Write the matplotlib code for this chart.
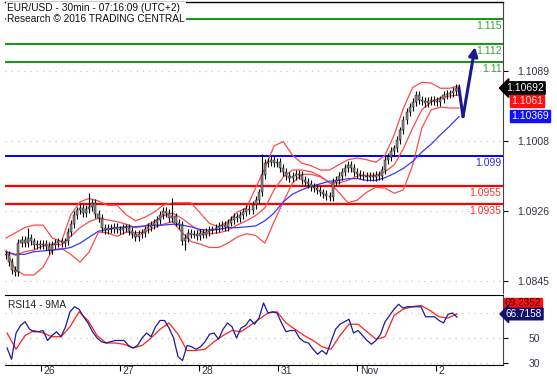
import numpy as np
import matplotlib
matplotlib.use('Agg')
import matplotlib.pyplot as plt
import matplotlib.transforms as mtransforms

plt.rcParams['font.family'] = ['Liberation Sans', 'DejaVu Sans']
plt.rcParams['font.size'] = 7.5

# time axis in trading days, 0 = Oct 26 00:00 (weekend skipped)
day_ticks = [0, 1, 2, 3, 4, 5]
day_labels = ['26', '27', '28', '31', 'Nov', '2']
t_first, t_last = -0.442, 5.29

# hourly closes
closes = [1.0875, 1.0867, 1.0858, 1.0855, 1.0889, 1.0893, 1.0889, 1.0895, 1.0891, 1.0887,
          1.0888, 1.0887, 1.0888, 1.0886, 1.0881, 1.0887, 1.0889, 1.0891, 1.0889, 1.0891,
          1.0902, 1.0911, 1.0922, 1.0927, 1.0930, 1.0924, 1.0929, 1.0931, 1.0936, 1.0923,
          1.0918, 1.0907, 1.0904, 1.0907, 1.0905, 1.0908, 1.0905, 1.0904, 1.0907, 1.0907,
          1.0903, 1.0900, 1.0896, 1.0900, 1.0901, 1.0905, 1.0908, 1.0910, 1.0912, 1.0916,
          1.0922, 1.0926, 1.0924, 1.0918, 1.0920, 1.0913, 1.0910, 1.0891, 1.0895, 1.0901,
          1.0899, 1.0900, 1.0897, 1.0901, 1.0899, 1.0902, 1.0904, 1.0905, 1.0907, 1.0909,
          1.0910, 1.0908, 1.0913, 1.0916, 1.0919, 1.0918, 1.0922, 1.0925, 1.0929, 1.0927,
          1.0933, 1.0939, 1.0948, 1.0968, 1.0982, 1.0983, 1.0986, 1.0982, 1.0983, 1.0976,
          1.0972, 1.0967, 1.0965, 1.0967, 1.0969, 1.0968, 1.0962, 1.0960, 1.0958, 1.0954,
          1.0953, 1.0951, 1.0948, 1.0946, 1.0944, 1.0943, 1.0960, 1.0962, 1.0967, 1.0972,
          1.0976, 1.0980, 1.0976, 1.0972, 1.0969, 1.0968, 1.0967, 1.0966, 1.0967, 1.0966,
          1.0968, 1.0967, 1.0974, 1.0986, 1.0989, 1.0996, 1.0999, 1.1009, 1.1020, 1.1032,
          1.1041, 1.1047, 1.1053, 1.1061, 1.1055, 1.1054, 1.1052, 1.1054, 1.1055, 1.1054,
          1.1053, 1.1056, 1.1061, 1.1062, 1.1063, 1.1066, 1.1069, 1.1069]
spike_idx = [7, 27, 54, 83, 58]
spike_price = [1.0907, 1.0947, 1.0942, 1.0993, 1.0881]

# bollinger bands and moving average
bb_upper = [1.0895, 1.0901, 1.0907, 1.0910, 1.0910, 1.0895, 1.0891, 1.0922, 1.0937, 1.0941,
            1.0938, 1.0933, 1.0933, 1.0922, 1.0915, 1.0919, 1.0925, 1.0933, 1.0936, 1.0936,
            1.0936, 1.0924, 1.0912, 1.0908, 1.0914, 1.0925, 1.0930, 1.0953, 1.0976, 1.1002,
            1.1007, 1.0991, 1.0982, 1.0979, 1.0974, 1.0974, 1.0980, 1.0986, 1.0988, 1.0986,
            1.0983, 1.0991, 1.1015, 1.1046, 1.1070, 1.1076, 1.1075, 1.1069, 1.1069, 1.1072]
bb_mid = [1.0879, 1.0875, 1.0879, 1.0881, 1.0886, 1.0888, 1.0887, 1.0897, 1.0907, 1.0914,
          1.0918, 1.0916, 1.0914, 1.0911, 1.0907, 1.0909, 1.0914, 1.0921, 1.0924, 1.0918,
          1.0910, 1.0903, 1.0900, 1.0901, 1.0904, 1.0910, 1.0915, 1.0921, 1.0930, 1.0951,
          1.0966, 1.0974, 1.0974, 1.0972, 1.0967, 1.0959, 1.0959, 1.0962, 1.0967, 1.0968,
          1.0968, 1.0972, 1.0980, 1.0999, 1.1023, 1.1044, 1.1053, 1.1058, 1.1060, 1.1061]
bb_lower = [1.0881, 1.0858, 1.0852, 1.0852, 1.0861, 1.0881, 1.0883, 1.0876, 1.0867, 1.0879,
            1.0902, 1.0901, 1.0897, 1.0902, 1.0901, 1.0902, 1.0907, 1.0911, 1.0914, 1.0902,
            1.0891, 1.0888, 1.0884, 1.0884, 1.0889, 1.0896, 1.0900, 1.0898, 1.0889, 1.0914,
            1.0937, 1.0959, 1.0969, 1.0969, 1.0966, 1.0960, 1.0948, 1.0936, 1.0939, 1.0948,
            1.0954, 1.0953, 1.0947, 1.0951, 1.0980, 1.1023, 1.1044, 1.1047, 1.1046, 1.1046]
ma_blue = [1.0879, 1.0876, 1.0876, 1.0879, 1.0880, 1.0881, 1.0882, 1.0884, 1.0889, 1.0896,
           1.0903, 1.0905, 1.0907, 1.0908, 1.0908, 1.0909, 1.0910, 1.0910, 1.0911, 1.0910,
           1.0908, 1.0905, 1.0904, 1.0905, 1.0907, 1.0907, 1.0908, 1.0909, 1.0915, 1.0924,
           1.0937, 1.0946, 1.0951, 1.0955, 1.0958, 1.0961, 1.0962, 1.0964, 1.0964, 1.0962,
           1.0962, 1.0965, 1.0970, 1.0976, 1.0984, 1.0995, 1.1004, 1.1015, 1.1025, 1.1036]

# key levels
resist = [1.115, 1.112, 1.11]
pivot = [1.099]
support = [1.0955, 1.0935]

# forecast arrow
arrow_t = [5.29, 5.342, 5.494]
arrow_p = [1.1069, 1.1036, 1.1117]

price_ticks = [1.1089, 1.1008, 1.0926, 1.0845]
last_close, last_mid, last_ma = '1.10692', '1.1061', '1.10369'

# RSI panel
rsi_first, rsi_last = -0.43, 5.266
rsi = [42, 33, 54, 60, 63, 57, 55, 55, 56, 48,
       52, 55, 51, 59, 71, 75, 73, 67, 62, 55,
       50, 47, 46, 47, 48, 48, 48, 44, 42, 44,
       50, 54, 51, 59, 64, 64, 58, 50, 35, 32,
       44, 43, 41, 43, 47, 53, 54, 49, 57, 62,
       59, 50, 58, 60, 65, 61, 66, 78, 70, 71,
       70, 62, 55, 56, 56, 50, 47, 46, 41, 37,
       40, 37, 47, 57, 61, 63, 65, 54, 56, 52,
       48, 45, 48, 53, 63, 68, 73, 77, 74, 75,
       75, 75, 75, 67, 67, 67, 64, 62, 69, 70,
       66.7158]
rsi_ma = [54, 41, 52, 56, 54, 51, 51, 59, 71, 64,
          52, 46, 46, 45, 42, 44, 50, 57, 62, 53,
          40, 40, 41, 47, 52, 56, 55, 60, 65, 70,
          71, 62, 57, 52, 48, 43, 41, 52, 61, 61,
          55, 49, 51, 68, 73, 75, 76, 72, 67, 66,
          69.2352]
rsi_ticks = [30, 50]


fig = plt.figure(figsize=(5.57, 3.79), dpi=100)
ax = fig.add_axes([5/557, 1-293/379, 498/557, 291/379])
ax2 = fig.add_axes([5/557, 1-365/379, 498/557, 70/379], sharex=ax)

t = np.linspace(t_first, t_last, len(closes))
c = np.array(closes)
o = np.r_[c[0], c[:-1]]
lo = np.minimum(o, c)
hi = np.maximum(o, c)

for p in price_ticks:
    ax.axhline(p, color='#c8c8c8', lw=0.9, ls=(0, (1, 4)), zorder=0)

for p in resist:
    ax.axhline(p, color='#119911', lw=1.4, zorder=1)
    ax.annotate(str(p), xy=(0.997, p), xycoords=('axes fraction', 'data'),
                xytext=(0, -1.5), textcoords='offset points',
                ha='right', va='top', color='#33a033', fontsize=7.5)
for p in pivot:
    ax.axhline(p, color='#0000ff', lw=1.4, zorder=1)
    ax.annotate(str(p), xy=(0.997, p), xycoords=('axes fraction', 'data'),
                xytext=(0, -1.5), textcoords='offset points',
                ha='right', va='top', color='#2a2ae0', fontsize=7.5)
for p in support:
    ax.axhline(p, color='#ff0000', lw=1.6, zorder=1)
    ax.annotate(str(p), xy=(0.997, p), xycoords=('axes fraction', 'data'),
                xytext=(0, -1.5), textcoords='offset points',
                ha='right', va='top', color='#ff3030', fontsize=7.5)

tb = np.linspace(t_first, t_last, len(bb_mid))
ax.plot(tb, bb_upper, color='#ff4a4a', lw=0.9, zorder=2)
ax.plot(tb, bb_lower, color='#ff4a4a', lw=0.9, zorder=2)
ax.plot(tb, bb_mid, color='#ff4a4a', lw=0.9, zorder=2)
ax.plot(tb, ma_blue, color='#3838ff', lw=0.9, zorder=2)

# candles
wick = 0.00045
ax.vlines(t, lo - wick, hi + wick, color='black', lw=0.8, zorder=3)
ax.vlines(t[spike_idx], c[spike_idx], spike_price, color='black', lw=0.8, zorder=3)
ax.bar(t, np.maximum(hi - lo, 0.00012), bottom=lo, width=0.026,
       color='#8a8a8a', edgecolor='black', lw=0.3, zorder=4)

# forecast arrow
ax.plot(arrow_t[:2], arrow_p[:2], color='#1a1a8c', lw=2.2, zorder=5,
        solid_capstyle='round')
ax.annotate('', xy=(arrow_t[2], arrow_p[2]), xytext=(arrow_t[1], arrow_p[1]),
            arrowprops=dict(arrowstyle='-|>,head_length=0.7,head_width=0.35',
                            color='#1a1a8c', lw=2.2, shrinkA=0, shrinkB=0),
            zorder=5)

ax.set_xlim(-0.456, 5.848)
ax.set_ylim(1.08311, 1.11692)
ax.set_yticks(price_ticks)
ax.set_yticklabels(['%.4f' % p for p in price_ticks])
ax.tick_params(axis='y', left=False, labelleft=False, right=True, labelright=True,
               length=3.6, width=0.8, pad=6.5, labelsize=7.5, labelcolor='#333344')
ax.tick_params(axis='x', bottom=False, labelbottom=False)
for s in ['left', 'bottom']:
    ax.spines[s].set_visible(False)
ax.spines['top'].set_linewidth(1.0)
ax.spines['right'].set_color('#444444')

# value boxes on the right
yb = mtransforms.blended_transform_factory(ax.transAxes, ax.transData)
ax.text(1.006, 1.10692, last_close, transform=yb, ha='left', va='center',
        color='white', fontsize=7.5, clip_on=False,
        bbox=dict(boxstyle='larrow,pad=0.12', fc='black', ec='black'))
ax.text(1.016, 1.1054, last_mid, transform=yb, ha='left', va='center',
        color='#ffe0e0', fontsize=7.5, clip_on=False,
        bbox=dict(boxstyle='square,pad=0.12', fc='#ff1010', ec='#ff1010'))
ax.text(1.016, 1.10369, last_ma, transform=yb, ha='left', va='center',
        color='white', fontsize=7.5, clip_on=False,
        bbox=dict(boxstyle='square,pad=0.12', fc='#1010ff', ec='#1010ff'))

ax.text(0.004, 0.995, 'EUR/USD - 30min - 07:16:09 (UTC+2)\nResearch \u00a9 2016 TRADING CENTRAL',
        transform=ax.transAxes, ha='left', va='top', fontsize=7.3, color='#111111',
        linespacing=1.05, zorder=6,
        bbox=dict(boxstyle='square,pad=0.1', fc='white', ec='none'))

# RSI panel
tr = np.linspace(rsi_first, rsi_last, len(rsi))
tm = np.linspace(rsi_first, rsi_last, len(rsi_ma))
for v in [30, 50, 70]:
    ax2.axhline(v, color='#c8c8c8', lw=0.9, ls=(0, (1, 4)), zorder=0)
ax2.plot(tm, rsi_ma, color='#ff2020', lw=0.9, zorder=2)
ax2.plot(tr, rsi, color='#1a1a9a', lw=0.9, zorder=3)
ax2.set_ylim(28.4, 84.4)
ax2.set_yticks(rsi_ticks)
ax2.tick_params(axis='y', left=False, labelleft=False, right=True, labelright=True,
                length=3.6, width=0.8, pad=15, labelsize=7.5, labelcolor='#333344')
ax2.set_xticks(day_ticks)
ax2.set_xticklabels([])
ax2.tick_params(axis='x', length=4.5, width=0.8, direction='out')
for tk, lab in zip(day_ticks, day_labels):
    ax2.annotate(lab, xy=(tk, 0), xycoords=('data', 'axes fraction'),
                 xytext=(2, -0.5), textcoords='offset points',
                 ha='left', va='top', fontsize=7.5, color='#333344')
ax2.spines['left'].set_visible(False)
ax2.spines['right'].set_color('#444444')
ax2.text(0.006, 0.93, 'RSI14 - 9MA', transform=ax2.transAxes, ha='left', va='top',
         fontsize=7.3, color='#222222')

yb2 = mtransforms.blended_transform_factory(ax2.transAxes, ax2.transData)
ax2.text(1.004, 77.6, '69.2352', transform=yb2, ha='left', va='center',
         color='#330000', fontsize=7.2, clip_on=False, zorder=6,
         bbox=dict(boxstyle='square,pad=0.08', fc='#ff1010', ec='#ff1010'))
ax2.text(1.006, 69.2, '66.7158', transform=yb2, ha='left', va='center',
         color='white', fontsize=7.2, clip_on=False, zorder=6,
         bbox=dict(boxstyle='larrow,pad=0.08', fc='#10106e', ec='#10106e'))

fig.savefig('out.png', dpi=100)
